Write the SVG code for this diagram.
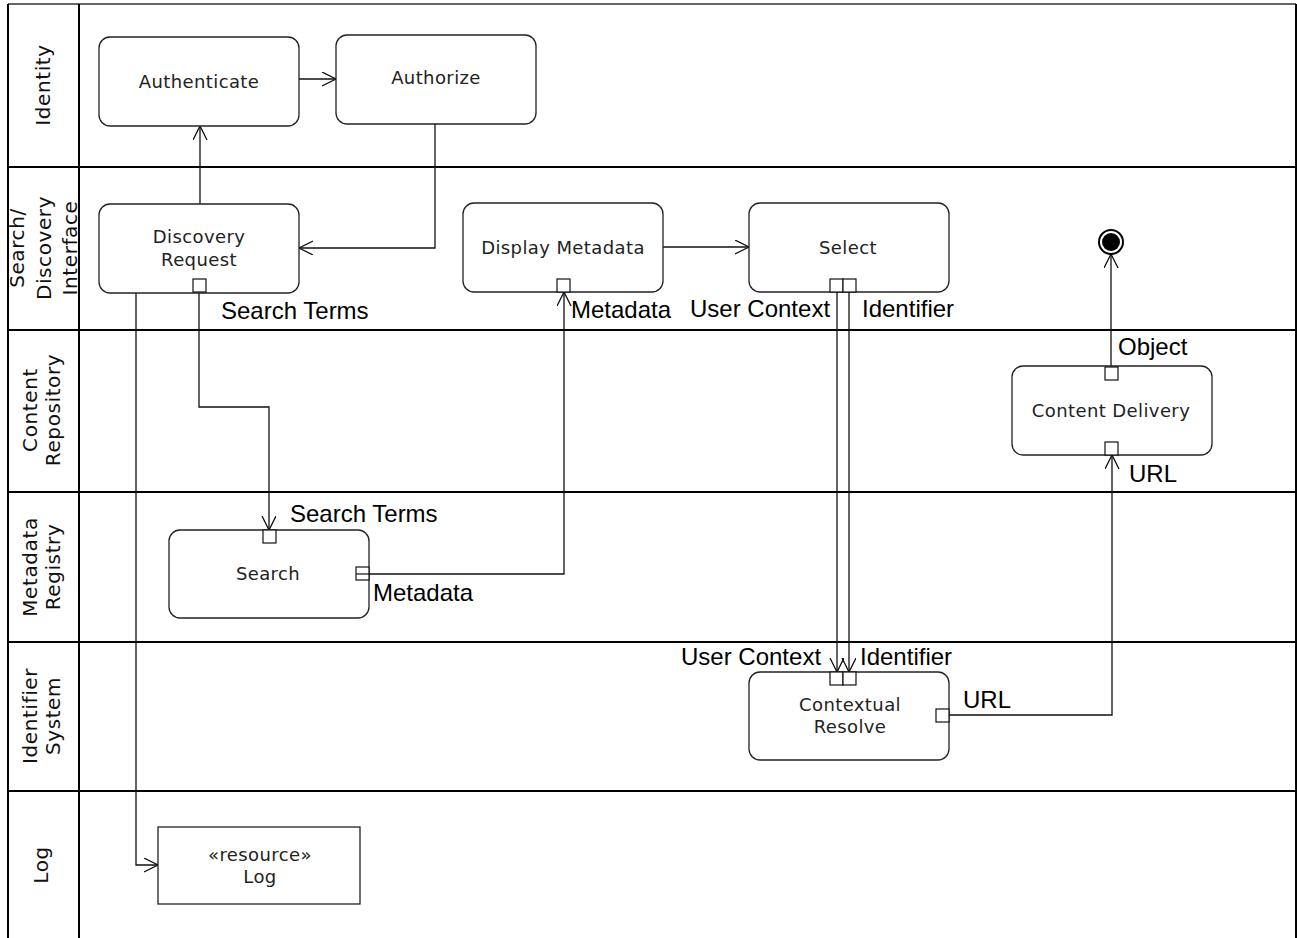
<svg xmlns="http://www.w3.org/2000/svg" width="1297" height="938" viewBox="0 0 1297 938">
<style>
.lane{stroke:#000;stroke-width:2;fill:none}
.node{fill:#fff;stroke:#222;stroke-width:1.3}
.pin{fill:#fff;stroke:#111;stroke-width:1.2}
.nt{font-family:"DejaVu Sans",Verdana,sans-serif;font-size:18px;fill:#222;text-anchor:middle;letter-spacing:0.4px}
.lt{font-family:"DejaVu Sans",Verdana,sans-serif;font-size:20px;fill:#111;text-anchor:middle;letter-spacing:0.6px}
.pl{font-family:"Liberation Sans",Arial,sans-serif;font-size:24px;fill:#000}
.conn path{fill:none;stroke:#111;stroke-width:1.3}
</style>
<defs>
<marker id="arr" markerWidth="16" markerHeight="16" refX="14" refY="7" orient="auto" markerUnits="userSpaceOnUse">
<path d="M0,0 L14,7 L0,14" fill="none" stroke="#111" stroke-width="1.3"/>
</marker>
</defs>
<rect width="1297" height="938" fill="#fff"/>
<g id="swimlanes">
<line x1="8" y1="4" x2="1296" y2="4" stroke="#666" stroke-width="2"/>
<line class="lane" x1="8" y1="4" x2="8" y2="938"/>
<line class="lane" x1="79" y1="4" x2="79" y2="938"/>
<line class="lane" x1="1296" y1="4" x2="1296" y2="938"/>
<line class="lane" x1="8" y1="167" x2="1296" y2="167"/>
<line class="lane" x1="8" y1="330" x2="1296" y2="330" stroke-width="1.5"/>
<line class="lane" x1="8" y1="492" x2="1296" y2="492" stroke-width="1.5"/>
<line class="lane" x1="8" y1="642" x2="1296" y2="642" stroke-width="1.5"/>
<line class="lane" x1="8" y1="791" x2="1296" y2="791" stroke-width="1.5"/>
<text class="lt" transform="translate(50,85) rotate(-90)">Identity</text>
<text class="lt" transform="translate(24,248) rotate(-90)">Search/</text>
<text class="lt" transform="translate(51,248) rotate(-90)">Discovery</text>
<text class="lt" transform="translate(77,248) rotate(-90)">Interface</text>
<text class="lt" transform="translate(37,410) rotate(-90)">Content</text>
<text class="lt" transform="translate(60,410) rotate(-90)">Repository</text>
<text class="lt" transform="translate(37,567) rotate(-90)">Metadata</text>
<text class="lt" transform="translate(60,567) rotate(-90)">Registry</text>
<text class="lt" transform="translate(37,716) rotate(-90)">Identifier</text>
<text class="lt" transform="translate(60,716) rotate(-90)">System</text>
<text class="lt" transform="translate(48,865) rotate(-90)">Log</text>
</g>
<g class="conn" id="connectors">
<path d="M200,204 V126" marker-end="url(#arr)"/>
<path d="M299,79 H336" marker-end="url(#arr)"/>
<path d="M435,124 V248 H299" marker-end="url(#arr)"/>
<path d="M199,292 V407 H269 V530" marker-end="url(#arr)"/>
<path d="M356,574 H564 V292" marker-end="url(#arr)"/>
<path d="M663,247 H749" marker-end="url(#arr)"/>
<path d="M837,292 V672" marker-end="url(#arr)"/>
<path d="M849,292 V672" marker-end="url(#arr)"/>
<path d="M949,715 H1112 V455" marker-end="url(#arr)"/>
<path d="M1111,367 V254" marker-end="url(#arr)"/>
<path d="M136,293 V865 H158" marker-end="url(#arr)"/>
</g>
<g id="authenticate">
<rect class="node" x="99" y="37" width="200" height="89" rx="11"/>
<text class="nt" x="199" y="88">Authenticate</text>
</g>
<g id="authorize">
<rect class="node" x="336" y="35" width="200" height="89" rx="11"/>
<text class="nt" x="436" y="84">Authorize</text>
</g>
<g id="discovery-request">
<rect class="node" x="99" y="204" width="200" height="89" rx="11"/>
<text class="nt" x="199" y="243">Discovery</text>
<text class="nt" x="199" y="266">Request</text>
<rect class="pin" x="193" y="279" width="13" height="13"/>
<text class="pl" x="221" y="319">Search Terms</text>
</g>
<g id="display-metadata">
<rect class="node" x="463" y="203" width="200" height="89" rx="11"/>
<text class="nt" x="563" y="254">Display Metadata</text>
<rect class="pin" x="557" y="279" width="13" height="13"/>
<text class="pl" x="571" y="318">Metadata</text>
</g>
<g id="select">
<rect class="node" x="749" y="203" width="200" height="89" rx="11"/>
<text class="nt" x="848" y="254">Select</text>
<rect class="pin" x="830" y="279" width="13" height="13"/>
<rect class="pin" x="843" y="279" width="13" height="13"/>
<text class="pl" x="690" y="317">User Context</text>
<text class="pl" x="862" y="317">Identifier</text>
</g>
<g id="end-node">
<circle cx="1111" cy="242" r="12" fill="#fff" stroke="#000" stroke-width="2"/>
<circle cx="1111" cy="242" r="9" fill="#000"/>
</g>
<g id="content-delivery">
<rect class="node" x="1012" y="366" width="200" height="89" rx="11"/>
<text class="nt" x="1111" y="417">Content Delivery</text>
<rect class="pin" x="1105" y="367" width="13" height="13"/>
<rect class="pin" x="1105" y="442" width="13" height="13"/>
<text class="pl" x="1118" y="355">Object</text>
<text class="pl" x="1129" y="482">URL</text>
</g>
<g id="search">
<rect class="node" x="169" y="530" width="200" height="88" rx="11"/>
<text class="nt" x="268" y="580">Search</text>
<rect class="pin" x="263" y="530" width="13" height="13"/>
<rect class="pin" x="356" y="567" width="13" height="13"/>
<path d="M356,574 H369" stroke="#111" stroke-width="1.2"/>
<text class="pl" x="290" y="522">Search Terms</text>
<text class="pl" x="373" y="601">Metadata</text>
</g>
<g id="contextual-resolve">
<rect class="node" x="749" y="672" width="200" height="88" rx="11"/>
<text class="nt" x="850" y="711">Contextual</text>
<text class="nt" x="850" y="733">Resolve</text>
<rect class="pin" x="830" y="672" width="13" height="13"/>
<rect class="pin" x="843" y="672" width="13" height="13"/>
<rect class="pin" x="936" y="709" width="13" height="13"/>
<text class="pl" x="681" y="665">User Context</text>
<text class="pl" x="860" y="665">Identifier</text>
<text class="pl" x="963" y="708">URL</text>
</g>
<g id="log">
<rect class="node" x="158" y="827" width="202" height="77"/>
<text class="nt" x="260" y="861">«resource»</text>
<text class="nt" x="260" y="883">Log</text>
</g>
</svg>
